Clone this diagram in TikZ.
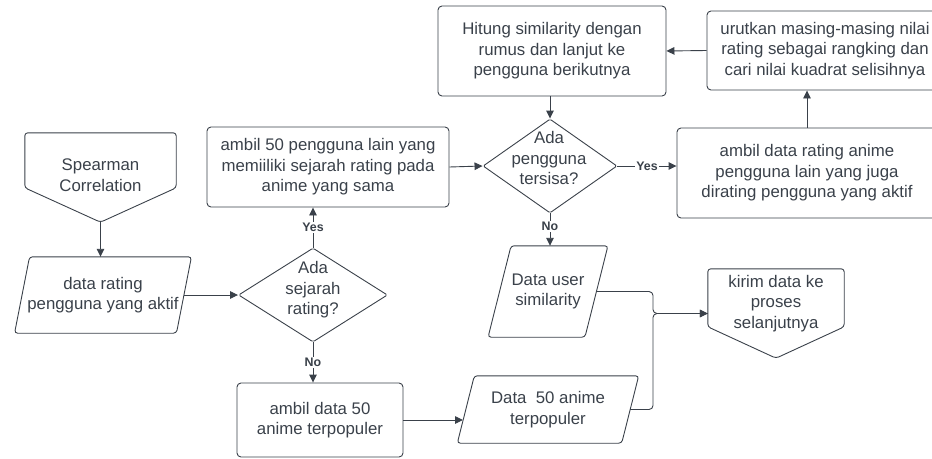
\documentclass[tikz,border=0pt]{standalone}
\usepackage{fontspec}
\setmainfont{Liberation Sans}
\usetikzlibrary{shapes.geometric,arrows.meta,calc}
\definecolor{ink}{HTML}{3A414A}

\tikzset{
  base/.style={inner sep=0pt, align=center, text=ink, font=\fontsize{16.8}{20.5}\selectfont},
  procbox/.style={base, rectangle, draw=ink, line width=0.9pt, rounded corners=4pt},
  decision/.style={diamond, draw=ink, line width=0.9pt, inner sep=0pt, rounded corners=1.5pt},
  txt/.style={base},
  outline/.style={draw=ink, line width=0.9pt, rounded corners=3pt},
  conn/.style={draw=ink, line width=0.9pt, -{Triangle[length=8pt,width=7.5pt]}},
  tag/.style={fill=white, text=ink, inner sep=1.5pt, font=\fontsize{12.4}{14}\bfseries\selectfont},
}

% parallelogram drawn round a body node: #1 node name, #2 half of the slant
\newcommand{\slantbox}[2]{%
  \draw[outline] ($(#1.north west)+(#2,0)$) -- ($(#1.north east)+(#2,0)$)
    -- ($(#1.south east)-(#2,0)$) -- ($(#1.south west)-(#2,0)$) -- cycle;}
% off-page connector drawn round a body node: #1 node name, #2 depth of the straight sides
\newcommand{\offpage}[2]{%
  \draw[outline] (#1.north west) -- (#1.north east) -- ($(#1.north east)+(0,#2)$)
    -- (#1.south) -- ($(#1.north west)+(0,#2)$) -- cycle;}

\begin{document}
\begin{tikzpicture}[x=1pt,y=-1pt]
\useasboundingbox (0,0) rectangle (932,458);

% start
\node[base, minimum width=151pt, minimum height=89pt] (spear) at (100.5,177.5) {};
\offpage{spear}{55}
\node[txt] (speart) at (100.5,175) {Spearman\\Correlation};

% input data
\node[base, minimum width=161.5pt, minimum height=76pt] (data) at (103,295) {data rating\\pengguna yang aktif};
\slantbox{data}{7.5}

% first decision
\node[decision, minimum width=149pt, minimum height=94pt] (d1) at (313,295) {};
\node[txt] (d1t) at (313,290) {Ada\\sejarah\\rating?};

% processes
\node[procbox, minimum width=242pt, minimum height=80pt] (b1) at (328,167)
  {ambil 50 pengguna lain yang\\memiiliki sejarah rating pada\\anime yang sama};

\node[decision, minimum width=134pt, minimum height=94pt] (d2) at (550,166) {};
\node[txt] (d2t) at (549,158) {Ada\\pengguna\\tersisa?};

\node[procbox, minimum width=228pt, minimum height=90pt] (b2) at (552,51)
  {Hitung similarity dengan\\rumus dan lanjut ke\\pengguna berikutnya};

\node[procbox, minimum width=236pt, minimum height=79pt] (b3) at (825,50.5)
  {urutkan masing-masing nilai\\rating sebagai rangking dan\\cari nilai kuadrat selisihnya};

\node[procbox, minimum width=260pt, minimum height=90pt] (b4) at (807,173)
  {ambil data rating anime\\pengguna lain yang juga\\dirating pengguna yang aktif};

\node[base, minimum width=96.5pt, minimum height=91pt] (dus) at (548,291.5) {Data user\\similarity};
\slantbox{dus}{11.5}

\node[base, minimum width=164pt, minimum height=67pt] (d50) at (548,409.5) {Data\ \ 50 anime\\terpopuler};
\slantbox{d50}{8.5}

\node[procbox, minimum width=166pt, minimum height=74pt] (b5) at (320,420)
  {ambil data 50\\anime terpopuler};

% end
\node[base, minimum width=136pt, minimum height=89pt] (kir) at (776,313.5) {};
\offpage{kir}{58}
\node[txt] (kirt) at (776,303.5) {kirim data ke\\proses\\selanjutnya};

% connectors
\coordinate (d50in) at (463,420);
\coordinate (jn) at (653,313.5);

\draw[conn] (spear.south) -- (spear.south |- data.north);
\draw[conn] (data.east) -- (d1.west);
\draw[conn] (d1.north) -- node[tag] {Yes} (d1.north |- b1.south);
\draw[conn] (d1.south) -- node[tag] {No} (d1.south |- b5.north);
\draw[conn] (b1.east) -- (d2.west);
\draw[conn] (d2.north |- b2.south) -- (d2.north);
\draw[conn] (d2.east) -- node[tag] {Yes} (d2.east -| b4.west);
\draw[conn] (b4.north) -- (b4.north |- b3.south);
\draw[conn] (b3.west) -- (b2.east);
\draw[conn] (d2.south) -- node[tag, pos=0.4] {No} (d2.south |- dus.north);
\draw[conn] (b5.east) -- (d50in);
\draw[conn, rounded corners=4pt] (dus.east) -| (jn) -- (kir.west);
\draw[conn, rounded corners=4pt] (d50.east) -| (jn) -- (kir.west);
\end{tikzpicture}
\end{document}
